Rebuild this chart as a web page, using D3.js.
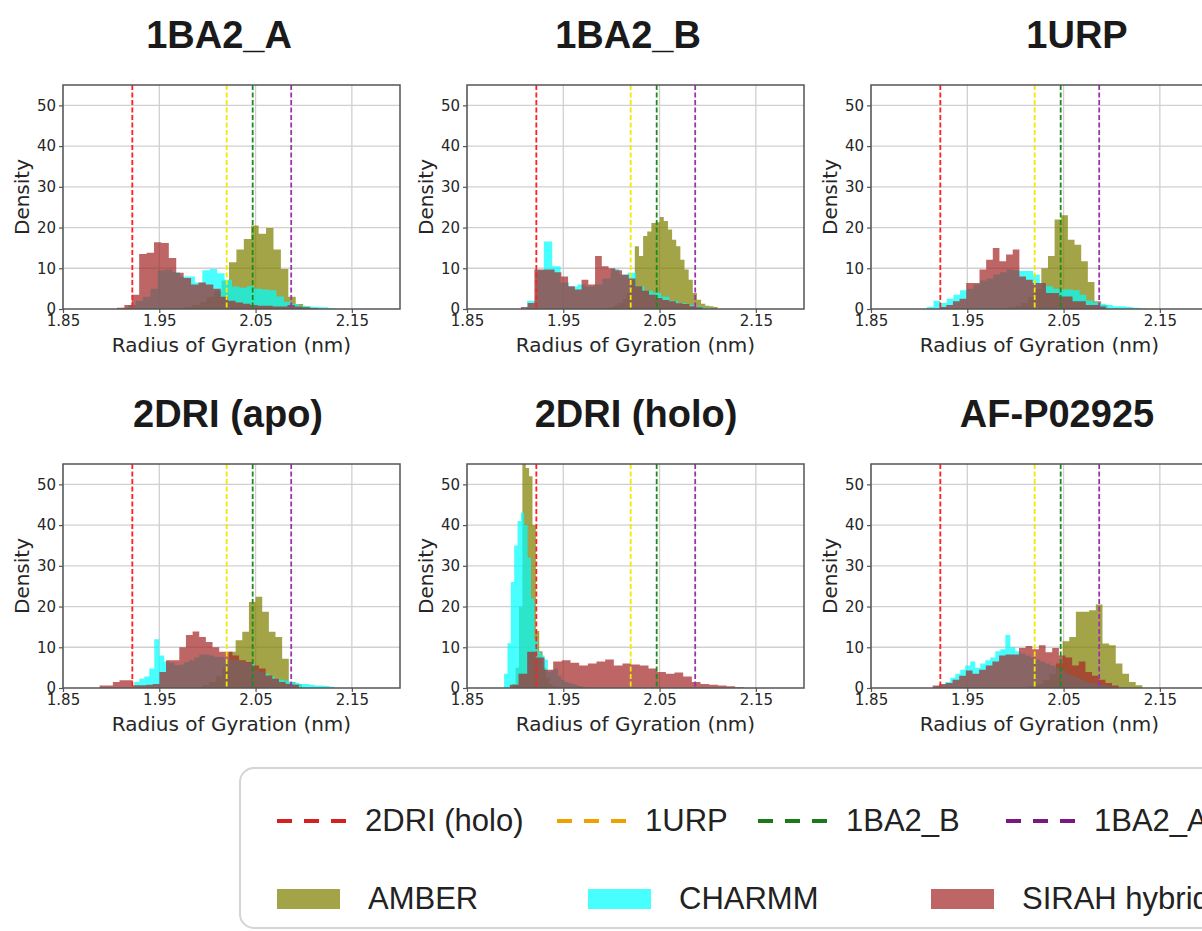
<!DOCTYPE html>
<html>
<head>
<meta charset="utf-8">
<script src="https://cdn.jsdelivr.net/npm/d3@7"></script>
<style>
  body { margin: 0; background: #fff; }
  svg { display: block; }
</style>
</head>
<body>
<div id="chart-container"></div>
<script>
// panels and reference structures
var panelTitles = ["1BA2_A", "1BA2_B", "1URP", "2DRI (apo)", "2DRI (holo)", "AF-P02925"];
var refNames = ["2DRI (holo)", "1URP", "1BA2_B", "1BA2_A"];
var refRg = [1.922, 2.020, 2.047, 2.087];
var forceFields = ["AMBER", "CHARMM", "SIRAH hybrid"];
var xTicks = [1.85, 1.95, 2.05, 2.15];
var yTicks = [0, 10, 20, 30, 40, 50];

// histogram bins per panel: first bin edge, bin width, densities
var amberStart = [1.9762, 1.9942, 1.9924, 1.9948, 1.897, 2.0145];
var amberWidth = [0.0077, 0.0043, 0.0069, 0.0069, 0.0035, 0.0069];
var amberDensity = [
  [0.5, 1, 1.8, 3, 4.5, 7, 11.5, 14.6, 17.2, 20.5, 18.5, 19.9, 14.6, 9.8, 3, 1.2, 0.6, 0.3],
  [0.3, 0.5, 1, 1.5, 2.5, 4, 7.2, 15.4, 13, 17.9, 19, 21.1, 21.3, 22.6, 21.6, 19.5, 17, 15.4, 12.1, 9.7, 7.2, 3.9, 2.3, 1.3, 0.8, 0.7, 0.5],
  [0.4, 0.8, 1.5, 3, 5, 10, 13, 22, 23, 17, 15.8, 11.7, 6.6, 1.9, 1],
  [0.8, 1.5, 3, 5, 8.9, 11.7, 13.8, 21.1, 22.4, 18.7, 13.8, 12.5, 7.2, 1.5, 1],
  [1, 5, 20, 58, 54, 52, 40, 14, 9, 5, 2.5, 1, 0.5],
  [0.5, 1, 2, 3.5, 6, 11.5, 12.5, 18.7, 18.7, 19.1, 20.5, 10.9, 10.5, 6, 3.5, 1.5, 0.7]
];
var charmmStart = [1.91, 1.9124, 1.908, 1.924, 1.8885, 1.9167];
var charmmWidth = [0.0077, 0.0087, 0.0069, 0.0052, 0.0035, 0.0052];
var charmmDensity = [
  [0.3, 1, 2, 3, 5, 9.5, 9.7, 9, 8, 8, 6.5, 9.5, 9.8, 8.8, 7.2, 5.5, 5.2, 5.6, 5, 4.8, 4.6, 3.1, 1.8, 1.2, 0.8, 0.6, 0.5, 0.4, 0.2],
  [2, 9.5, 16.6, 10.5, 6.5, 5.5, 6, 5.5, 6, 7.5, 9.8, 8.5, 8.9, 5.6, 4.5, 4, 3, 2, 1.5, 1, 0.6, 0.3],
  [0.5, 2, 1.5, 2.5, 3.5, 4.6, 5, 6, 7, 7.5, 8.5, 9, 9.7, 9.5, 9.3, 9.3, 8.4, 6.4, 5.6, 5, 4.8, 4.8, 4.6, 3.5, 2.1, 1.6, 1.3, 1, 0.7, 0.7, 0.5, 0.3, 0.2],
  [1.5, 2.3, 2.8, 4.8, 12, 8, 6.5, 6.2, 5.6, 5.8, 6.4, 6.8, 7.5, 8.2, 8.2, 8, 7.6, 7.6, 7.2, 7, 6.8, 6.5, 6.2, 6, 4.5, 3.9, 3.5, 2.8, 2.3, 2, 1.8, 1.5, 1.3, 1, 1, 0.8, 0.6, 0.6, 0.5, 0.3],
  [3.5, 11, 26, 35, 41, 43, 40, 32, 22, 12, 9, 8, 7, 4, 4.5, 4.8, 3, 2, 1.5, 1.2, 1, 0.8, 0.5, 0.3],
  [0.5, 0.8, 1.5, 2.5, 3.5, 4.5, 5.5, 6.5, 5, 6, 6.8, 7.5, 9, 9.5, 13, 10, 9, 8.5, 8, 7.5, 7, 6.5, 6, 5.5, 5, 4.5, 3.5, 3, 2.5, 2, 1.5, 1.2, 1, 0.8, 0.5, 0.3]
];
var sirahStart = [1.906, 1.906, 1.9213, 1.888, 1.8945, 1.914];
var sirahWidth = [0.0077, 0.007, 0.0069, 0.0069, 0.009, 0.0069];
var sirahDensity = [
  [0.3, 1, 3.5, 13.5, 13.8, 16.4, 16.2, 12.5, 8.9, 7.6, 6, 6.5, 6, 5, 3, 2, 1.6, 1.3, 1, 0.8, 0.8, 0.6, 0.6, 1, 0.6, 0.4, 0.2],
  [0.5, 1.5, 9.7, 9.7, 9.7, 9, 8, 5.6, 4.8, 7.2, 6, 13, 10.5, 10, 9.5, 8.4, 7.5, 5.6, 4.5, 3.5, 2.7, 2.2, 1.9, 1.4, 1.2, 0.7, 0.4],
  [0.5, 1, 1.9, 2.5, 6.4, 6.4, 9.7, 12.1, 15, 11.7, 13.4, 14.6, 8, 7.2, 6.4, 6.4, 3.9, 3.9, 3.1, 3.1, 1.9, 1.9, 1, 1, 0.6],
  [0.6, 0.6, 1.5, 1.9, 1.9, 0.7, 0.7, 0.8, 1, 3.9, 6.8, 6.8, 10, 13, 13.9, 12.5, 11.3, 10, 8.9, 8.9, 8, 6.8, 6.4, 5.5, 4.8, 3.1, 2.3, 1.5, 1, 0.8],
  [0.8, 3.5, 8.9, 7.5, 4.5, 6.5, 6.8, 6.2, 5.5, 6, 6.5, 7, 5.5, 6, 5.8, 5.5, 4.8, 3.9, 3.5, 3.8, 2.8, 1.5, 1, 0.8, 0.6, 0.4, 0.2],
  [0.6, 1, 1.2, 2, 3, 4.3, 3.5, 4.5, 5.5, 6.5, 8, 8.2, 8.2, 9.8, 10.3, 9.5, 10.5, 8.8, 9.8, 8, 7.5, 5.5, 6.5, 3.9, 3, 2, 1.2, 0.6]
];

var W = 1202, H = 931;
var colLeft = [63, 467, 871];
var rowTop = [85, 464];
var plotW = 337, plotH = 224;
var titleX = [219, 628, 1077, 228, 636, 1057];
var titleY = [48, 427];

var histFill = ["#808000", "#00ffff", "#a52a2a"];
var refLineColor = ["#ff2020", "#f5e800", "#1a8c1a", "#9b34ab"];
var refLegendColor = ["#d42020", "#f0a000", "#1a7a1a", "#7a1880"];

var svg = d3.select("#chart-container").append("svg")
  .attr("width", W).attr("height", H)
  .style("font-family", "'DejaVu Sans', sans-serif");

var x = d3.scaleLinear().domain([1.85, 2.2]).range([0, plotW]);
var y = d3.scaleLinear().domain([0, 55]).range([plotH, 0]);

var area = d3.area()
  .curve(d3.curveStepAfter)
  .x(function (d) { return x(d[0]); })
  .y0(y(0))
  .y1(function (d) { return y(d[1]); });

function binPoints(start, width, vals) {
  var pts = vals.map(function (v, i) { return [start + i * width, v]; });
  pts.push([start + vals.length * width, vals[vals.length - 1]]);
  return pts;
}

panelTitles.forEach(function (title, p) {
  var col = p % 3, row = Math.floor(p / 3);
  var g = svg.append("g")
    .attr("transform", "translate(" + colLeft[col] + "," + rowTop[row] + ")");

  svg.append("text")
    .attr("x", titleX[p]).attr("y", titleY[row])
    .attr("text-anchor", "middle")
    .style("font-family", "'Liberation Sans', Arial, sans-serif")
    .style("font-weight", "bold").style("font-size", "38px")
    .attr("fill", "#1a1a1a")
    .text(title);

  g.append("clipPath").attr("id", "clip" + p)
    .append("rect").attr("width", plotW).attr("height", plotH);

  // grid
  g.selectAll(".vgrid").data(xTicks).enter().append("line")
    .attr("x1", function (d) { return x(d); }).attr("x2", function (d) { return x(d); })
    .attr("y1", 0).attr("y2", plotH)
    .attr("stroke", "#d0d0d0").attr("stroke-width", 1.3);
  g.selectAll(".hgrid").data(yTicks.slice(1)).enter().append("line")
    .attr("x1", 0).attr("x2", plotW)
    .attr("y1", function (d) { return y(d); }).attr("y2", function (d) { return y(d); })
    .attr("stroke", "#d0d0d0").attr("stroke-width", 1.3);

  var hists = g.append("g").attr("clip-path", "url(#clip" + p + ")");
  var series = [
    binPoints(amberStart[p], amberWidth[p], amberDensity[p]),
    binPoints(charmmStart[p], charmmWidth[p], charmmDensity[p]),
    binPoints(sirahStart[p], sirahWidth[p], sirahDensity[p])
  ];
  series.forEach(function (pts, k) {
    hists.append("path").attr("d", area(pts))
      .attr("fill", histFill[k]).attr("fill-opacity", 0.72);
  });

  // reference structures
  hists.selectAll(".ref").data(refRg).enter().append("line")
    .attr("x1", function (d) { return x(d); }).attr("x2", function (d) { return x(d); })
    .attr("y1", 0).attr("y2", plotH)
    .attr("stroke", function (d, i) { return refLineColor[i]; })
    .attr("stroke-width", 1.8)
    .attr("stroke-dasharray", "5,2.5");

  var xAxis = g.append("g").attr("transform", "translate(0," + plotH + ")")
    .call(d3.axisBottom(x).tickValues(xTicks).tickFormat(d3.format(".2f")).tickSize(4).tickPadding(2));
  var yAxis = g.append("g")
    .call(d3.axisLeft(y).tickValues(yTicks).tickSize(4).tickPadding(3));
  [xAxis, yAxis].forEach(function (a) {
    a.select(".domain").remove();
    a.selectAll(".tick line").attr("stroke", "#555").attr("stroke-width", 1.2);
    a.selectAll(".tick text").attr("fill", "#262626")
      .style("font-family", "'DejaVu Sans', sans-serif").style("font-size", "15px");
  });

  g.append("rect").attr("width", plotW).attr("height", plotH)
    .attr("fill", "none").attr("stroke", "#555").attr("stroke-width", 1.5);

  g.append("text")
    .attr("x", plotW / 2).attr("y", plotH + 43)
    .attr("text-anchor", "middle")
    .style("font-size", "20px").attr("fill", "#262626")
    .text("Radius of Gyration (nm)");
  g.append("text")
    .attr("transform", "translate(-34," + (plotH / 2) + ") rotate(-90)")
    .attr("text-anchor", "middle")
    .style("font-size", "20px").attr("fill", "#262626")
    .text("Density");
});

// legend
var leg = svg.append("g").style("font-family", "'Liberation Sans', Arial, sans-serif");
leg.append("rect")
  .attr("x", 240).attr("y", 768).attr("width", 1000).attr("height", 160)
  .attr("rx", 14).attr("fill", "#fff")
  .attr("stroke", "#d4d4d4").attr("stroke-width", 2);

var lineItemX = [277, 557, 758, 1006];
refNames.forEach(function (name, i) {
  leg.append("line")
    .attr("x1", lineItemX[i]).attr("x2", lineItemX[i] + 70)
    .attr("y1", 821).attr("y2", 821)
    .attr("stroke", refLegendColor[i]).attr("stroke-width", 4)
    .attr("stroke-dasharray", "15,12");
  leg.append("text")
    .attr("x", lineItemX[i] + 88).attr("y", 831)
    .style("font-size", "31px").attr("fill", "#222")
    .text(name);
});

var patchItemX = [277, 588, 931];
forceFields.forEach(function (name, i) {
  leg.append("rect")
    .attr("x", patchItemX[i]).attr("y", 889).attr("width", 63).attr("height", 20)
    .attr("fill", histFill[i]).attr("fill-opacity", 0.72);
  leg.append("text")
    .attr("x", patchItemX[i] + 91).attr("y", 909)
    .style("font-size", "31px").attr("fill", "#222")
    .text(name);
});
</script>
</body>
</html>
